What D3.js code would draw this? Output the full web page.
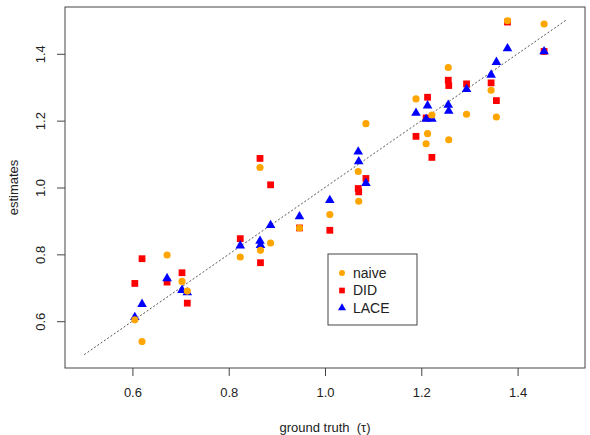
<!DOCTYPE html>
<html>
<head>
<meta charset="utf-8">
<script src="https://cdn.jsdelivr.net/npm/d3@7"></script>
<style>
	body { margin: 0; background: #fff; }
	text { font-family: "Liberation Sans", Arial, sans-serif; fill: #222; }
</style>
</head>
<body>
<div id="chart"></div>
<script>

//=================== DATA ====================================
var truth = [0.605, 0.620, 0.672, 0.703, 0.714, 0.824, 0.865, 0.866, 0.887, 0.947,
	1.010, 1.069, 1.070, 1.085, 1.189, 1.213, 1.210, 1.222, 1.256, 1.257,
	1.294, 1.345, 1.356, 1.379, 1.455];
var naive = [0.604, 0.539, 0.798, 0.719, 0.690, 0.792, 1.060, 0.812, 0.834, 0.879,
	0.919, 1.048, 0.959, 1.191, 1.265, 1.161, 1.131, 1.217, 1.359, 1.143,
	1.219, 1.291, 1.211, 1.499, 1.489];
var did = [0.713, 0.787, 0.717, 0.745, 0.654, 0.847, 1.087, 0.775, 1.008, 0.879,
	0.872, 0.997, 0.987, 1.027, 1.153, 1.270, 1.208, 1.090, 1.321, 1.305,
	1.310, 1.313, 1.260, 1.495, 1.407];
var lace = [0.612, 0.651, 0.728, 0.693, 0.686, 0.826, 0.840, 0.827, 0.887, 0.913,
	0.962, 1.107, 1.078, 1.013, 1.223, 1.245, 1.205, 1.205, 1.247, 1.229,
	1.294, 1.337, 1.375, 1.416, 1.407];
var ticks = [0.6, 0.8, 1.0, 1.2, 1.4];
var lims = [0.5, 1.5];

//=================== SETUP ====================================
var width = 590, height = 435;
var margin = {top: 7, right: 5, bottom: 67, left: 65};

var svg = d3.select("#chart").append("svg")
	.attr("width", width)
	.attr("height", height);

//R style 4% padding on the limits
var pad = (lims[1] - lims[0]) * 0.04;
var x = d3.scaleLinear().domain([lims[0] - pad, lims[1] + pad])
	.range([margin.left, width - margin.right]);
var y = d3.scaleLinear().domain([lims[0] - pad, lims[1] + pad])
	.range([height - margin.bottom, margin.top]);

var series = [
	{name: "DID", values: did, color: "#ff0000", shape: d3.symbolSquare, size: 46},
	{name: "LACE", values: lace, color: "#0000ff", shape: d3.symbolTriangle, size: 40},
	{name: "naive", values: naive, color: "#ffa500", shape: d3.symbolCircle, size: 40}
];

//=================== AXES ====================================
svg.append("g")
	.attr("transform", "translate(0," + y.range()[0] + ")")
	.call(d3.axisBottom(x).tickValues(ticks).tickSize(8).tickPadding(12).tickFormat(d3.format(".1f")))
	.call(styleAxis);

//y labels are turned like in R (las = 0)
svg.append("g")
	.attr("transform", "translate(" + x.range()[0] + ",0)")
	.call(d3.axisLeft(y).tickValues(ticks).tickSize(8).tickFormat(d3.format(".1f")))
	.call(styleAxis)
	.selectAll(".tick text")
	.attr("x", 0)
	.attr("y", 0)
	.attr("dy", 0)
	.attr("text-anchor", "middle")
	.attr("transform", "translate(-20,0) rotate(-90)");

function styleAxis(g) {
	g.select(".domain").remove();
	g.selectAll(".tick line").attr("stroke", "#444");
	g.selectAll(".tick text").style("font-size", "13px").attr("fill", "#222");
}

//box round the plot
svg.append("rect")
	.attr("x", x.range()[0])
	.attr("y", y.range()[1])
	.attr("width", x.range()[1] - x.range()[0])
	.attr("height", y.range()[0] - y.range()[1])
	.attr("fill", "none")
	.attr("stroke", "#444");

//axis titles
svg.append("text")
	.attr("x", (x.range()[0] + x.range()[1]) / 2)
	.attr("y", 432)
	.attr("text-anchor", "middle")
	.style("font-size", "13px")
	.style("white-space", "pre")
	.text("ground truth  (\u03c4)");

svg.append("text")
	.attr("transform", "translate(18," + (y.range()[0] + y.range()[1]) / 2 + ") rotate(-90)")
	.attr("text-anchor", "middle")
	.style("font-size", "13px")
	.text("estimates");

//=================== MARKS ====================================
//identity line
svg.append("line")
	.attr("x1", x(lims[0])).attr("y1", y(lims[0]))
	.attr("x2", x(lims[1])).attr("y2", y(lims[1]))
	.attr("stroke", "#555")
	.attr("stroke-width", 1)
	.attr("stroke-dasharray", "2,2");

series.forEach(function(s) {
	svg.append("g").selectAll("path")
		.data(s.values)
		.enter().append("path")
		.attr("d", d3.symbol().type(s.shape).size(s.size))
		.attr("transform", function(d, i) {
			return "translate(" + x(truth[i]) + "," + y(d) + ")";
		})
		.attr("fill", s.color);
});

//=================== LEGEND ====================================
var legend = svg.append("g").attr("transform", "translate(328,254)");
legend.append("rect")
	.attr("width", 89)
	.attr("height", 71)
	.attr("fill", "#fff")
	.attr("stroke", "#444");

var legendItems = [series[2], series[0], series[1]];
var item = legend.selectAll("g.item")
	.data(legendItems)
	.enter().append("g")
	.classed("item", true)
	.attr("transform", function(d, i) { return "translate(14," + (19 + i * 17.5) + ")"; });

item.append("path")
	.attr("d", function(d) { return d3.symbol().type(d.shape).size(d.size * 0.7)(); })
	.attr("fill", function(d) { return d.color; });

item.append("text")
	.attr("x", 11)
	.attr("dy", "0.35em")
	.style("font-size", "14px")
	.text(function(d) { return d.name; });

</script>
</body>
</html>
